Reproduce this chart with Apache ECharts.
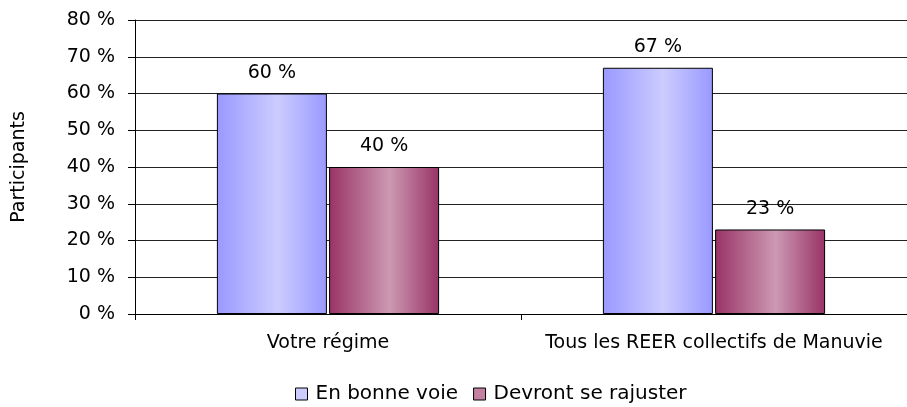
<!DOCTYPE html>
<html>
<head>
    <meta charset="utf-8">
    <title>Participants</title>
    <script src="https://cdn.jsdelivr.net/npm/echarts@6.0.0/dist/echarts.min.js"></script>
    <style>
        html, body { margin: 0; padding: 0; background: #fff; }
        #grafico { width: 907px; height: 407px; }
    </style>
</head>
<body>
    <div id="grafico"></div>
    <script>
        // Données
        const categories = ['Votre régime', 'Tous les REER collectifs de Manuvie'];
        const enBonneVoie = [60, 67];
        const devrontSeRajuster = [40, 23];
        const seriesNames = ['En bonne voie', 'Devront se rajuster'];

        const police = 'DejaVu Sans';
        const taille = 19;

        function degrade(bord, centre) {
            return new echarts.graphic.LinearGradient(0, 0, 1, 0, [
                { offset: 0, color: bord },
                { offset: 0.55, color: centre },
                { offset: 1, color: bord }
            ]);
        }

        const chart = echarts.init(document.getElementById('grafico'));

        const etiquette = {
            show: true,
            position: 'top',
            distance: 11,
            formatter: p => p.value + ' %',
            color: '#000',
            fontFamily: police,
            fontSize: taille
        };

        chart.setOption({
            animation: false,
            textStyle: { fontFamily: police },
            grid: { left: 135, right: 0, top: 20, bottom: 93 },
            legend: {
                bottom: -2,
                left: 290,
                icon: 'rect',
                itemWidth: 12,
                itemHeight: 12,
                itemGap: 15,
                textStyle: { fontFamily: police, fontSize: 20, color: '#000', padding: [0, 0, 0, 3] },
                data: [
                    { name: seriesNames[0], itemStyle: { color: '#ccccff', borderColor: '#000', borderWidth: 1 } },
                    { name: seriesNames[1], itemStyle: { color: '#c380a0', borderColor: '#000', borderWidth: 1 } }
                ]
            },
            xAxis: {
                type: 'category',
                data: categories,
                axisLine: { lineStyle: { color: '#000', width: 1 } },
                axisTick: { show: true, length: 6, lineStyle: { color: '#000' } },
                axisLabel: { color: '#000', fontSize: taille, fontFamily: police, margin: 20, interval: 0, hideOverlap: false }
            },
            yAxis: {
                type: 'value',
                min: 0,
                max: 80,
                interval: 10,
                name: 'Participants',
                nameLocation: 'middle',
                nameGap: 106,
                nameRotate: 90,
                nameTextStyle: { color: '#000', fontSize: taille, fontFamily: police },
                axisLine: { show: true, lineStyle: { color: '#000', width: 1 } },
                axisTick: { show: true, length: 7, lineStyle: { color: '#000' } },
                axisLabel: { color: '#000', fontSize: taille, fontFamily: police, margin: 20, formatter: v => v + ' %' },
                splitLine: { show: true, lineStyle: { color: '#222', width: 1 } }
            },
            series: [
                {
                    name: seriesNames[0],
                    type: 'bar',
                    data: enBonneVoie,
                    barWidth: 110,
                    barGap: '2%',
                    itemStyle: { color: degrade('#9999ff', '#ccccff'), borderColor: '#000', borderWidth: 1 },
                    label: etiquette
                },
                {
                    name: seriesNames[1],
                    type: 'bar',
                    data: devrontSeRajuster,
                    barWidth: 110,
                    itemStyle: { color: degrade('#993366', '#cc99b3'), borderColor: '#000', borderWidth: 1 },
                    label: etiquette
                }
            ]
        });
    </script>
</body>
</html>
